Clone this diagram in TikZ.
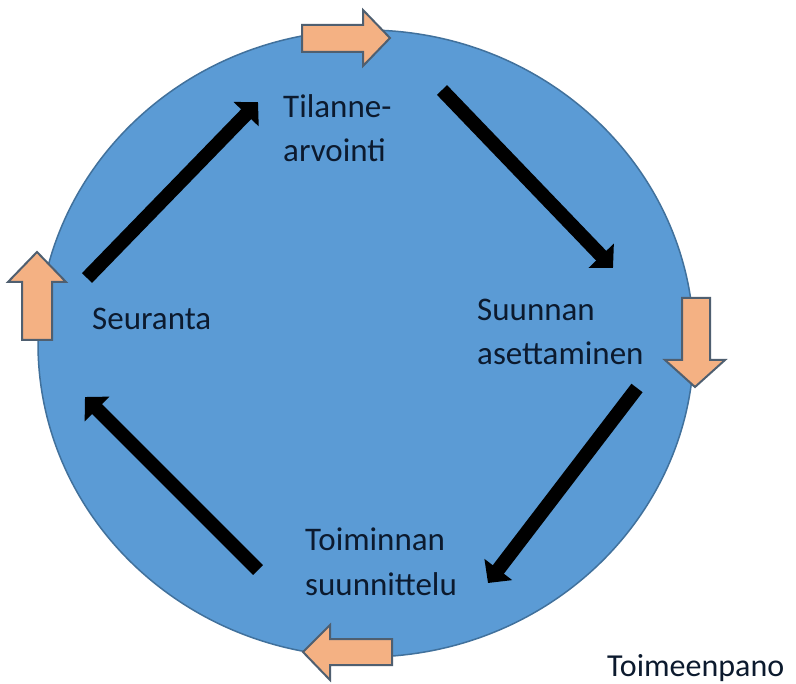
\documentclass[tikz,border=0pt]{standalone}
\usepackage{fontspec}
\setmainfont{Carlito}
\usetikzlibrary{arrows.meta,shapes.geometric}
\definecolor{circfill}{HTML}{5B9BD5}
\definecolor{circline}{HTML}{41719C}
\definecolor{orfill}{HTML}{F4B183}
\definecolor{orline}{HTML}{4F5F70}
\definecolor{txt}{HTML}{0C1A2E}
\tikzset{
  circ/.style={fill=circfill, draw=circline, line width=1.5pt},
  orarrow/.style={fill=orfill, draw=orline, line width=2pt, line join=miter},
  flow/.style={draw=black, line width=14pt, -{Triangle[length=17pt,width=34pt]}},
  lbl/.style={inner sep=0pt, anchor=base west, align=left, text=txt,
    font=\fontsize{33}{44}\selectfont},
}
\begin{document}
\begin{tikzpicture}[x=1pt,y=-1pt]
\useasboundingbox (0,0) rectangle (796,684);
\fill[white] (0,0) rectangle (796,684);
\node[circ, ellipse, minimum width=656pt, minimum height=627pt, inner sep=0pt] (cycle) at (366,343.5) {};
% orange arrows
\draw[orarrow] (302,25) -- (363,25) -- (363,10) -- (390,38) -- (363,66) -- (363,52) -- (302,52) -- cycle;
\draw[orarrow] (22,340) -- (22,282) -- (8,282) -- (37,252) -- (66,282) -- (52,282) -- (52,340) -- cycle;
\draw[orarrow] (682,298) -- (710,298) -- (710,360) -- (725,360) -- (695,387) -- (665,360) -- (682,360) -- cycle;
\draw[orarrow] (392,639) -- (330,639) -- (330,625) -- (303,652) -- (330,680) -- (330,665) -- (392,665) -- cycle;
% labels (base anchor = baseline of the last line)
\node[lbl] (tilanne) at (283,162) {Tilanne-\\arvointi};
\node[lbl] (seuranta) at (92,330) {Seuranta};
\node[lbl] (suunta) at (477,365) {Suunnan\\asettaminen};
\node[lbl] (toiminta) at (305,595) {Toiminnan\\suunnittelu};
\node[lbl, font=\fontsize{32}{40}\selectfont] (toimeen) at (607,677) {Toimeenpano};
% flow arrows
\coordinate (a1s) at (87,278);  \coordinate (a1e) at (258,102);
\coordinate (a2s) at (442,90);  \coordinate (a2e) at (613,268);
\coordinate (a3s) at (637,388); \coordinate (a3e) at (488,583);
\coordinate (a4s) at (258,570); \coordinate (a4e) at (85,397);
\draw[flow] (a1s) -- (a1e);
\draw[flow] (a2s) -- (a2e);
\draw[flow] (a3s) -- (a3e);
\draw[flow] (a4s) -- (a4e);
\end{tikzpicture}
\end{document}
